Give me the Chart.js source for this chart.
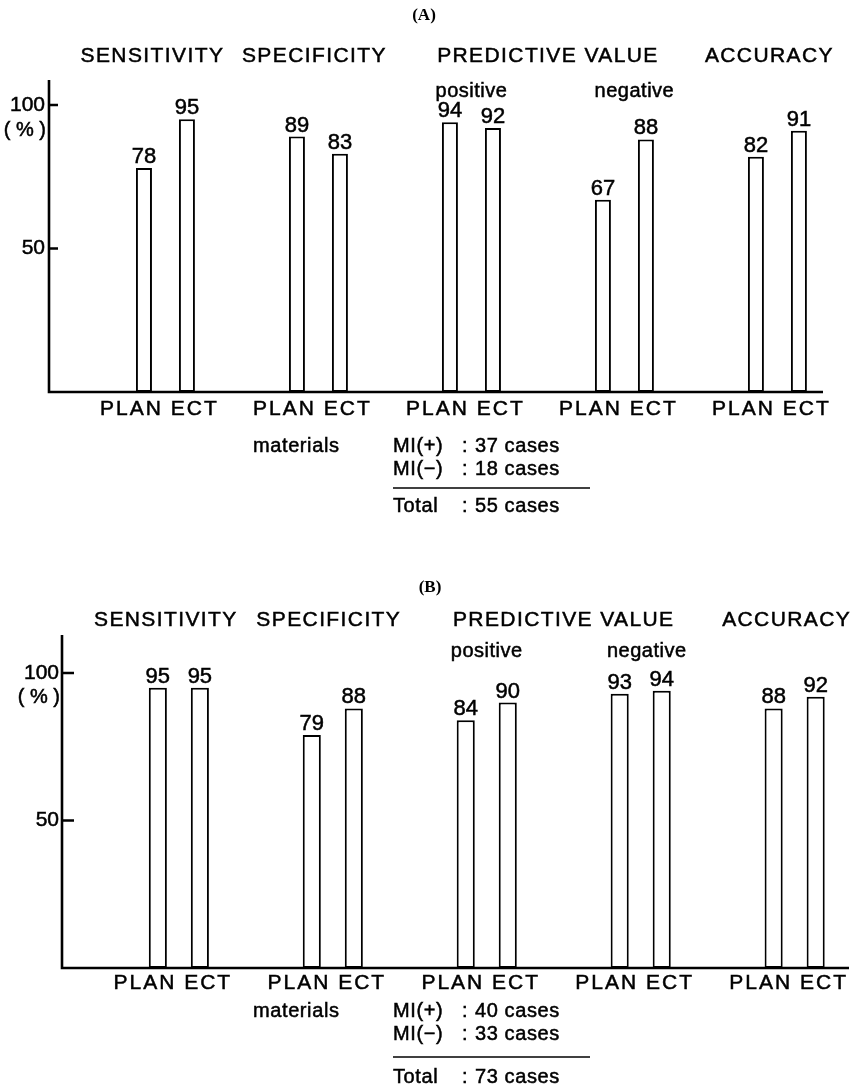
<!DOCTYPE html>
<html>
<head>
<meta charset="utf-8">
<script src="https://cdn.jsdelivr.net/npm/chart.js@4.4.0/dist/chart.umd.min.js"></script>
<style>
    body { margin: 0; background: #fff; }
    #wrap { position: relative; width: 851px; height: 1089px; }
    canvas { position: absolute; left: 0; }
</style>
</head>
<body>
<div id="wrap">
    <canvas id="chartA" width="851" height="560" style="top:0px"></canvas>
    <canvas id="chartB" width="851" height="529" style="top:560px"></canvas>
</div>
<script>
// Data
const categories = ['SENSITIVITY', 'SPECIFICITY', 'positive', 'negative', 'ACCURACY'];
const pairedHeader = 'PREDICTIVE VALUE';
const seriesNames = ['PLAN', 'ECT'];
const planA = [78, 89, 94, 67, 82];
const ectA = [95, 83, 92, 88, 91];
const planB = [95, 79, 84, 93, 88];
const ectB = [95, 88, 90, 94, 92];
const yTicks = [50, 100];
const materialsA = [['MI(+)', '37 cases'], ['MI(\u2212)', '18 cases'], ['Total', '55 cases']];
const materialsB = [['MI(+)', '40 cases'], ['MI(\u2212)', '33 cases'], ['Total', '73 cases']];

const SANS = "'Liberation Sans', Arial, Helvetica, sans-serif";
const headerShift = [-13, -4, 0, 0, -8];

// fill + thin stroke so the print looks a bit heavier
function ink(ctx, text, x, y) {
    ctx.fillText(text, x, y);
    ctx.strokeText(text, x, y);
}

// draws axes, inner ticks, value labels and all the figure text
const panelText = {
    id: 'panelText',
    afterDraw(chart, args, o) {
        const ctx = chart.ctx;
        const area = chart.chartArea;
        const xs = chart.scales.x, ys = chart.scales.y;
        ctx.save();
        ctx.fillStyle = '#000';
        ctx.strokeStyle = '#000';

        // axis lines
        ctx.lineWidth = 2.6;
        ctx.beginPath();
        ctx.moveTo(area.left, area.top);
        ctx.lineTo(area.left, area.bottom);
        ctx.lineTo(area.right, area.bottom);
        yTicks.forEach(v => {
            const py = ys.getPixelForValue(v);
            ctx.moveTo(area.left, py);
            ctx.lineTo(area.left + o.tickLen, py);
        });
        ctx.stroke();

        ctx.lineWidth = 0.5;

        // tick labels and (%) under the 100 tick
        ctx.font = '21px ' + SANS;
        ctx.textAlign = 'right';
        ctx.textBaseline = 'middle';
        yTicks.forEach(v => ink(ctx, String(v), area.left - o.tickPad, ys.getPixelForValue(v)));
        ctx.font = '20px ' + SANS;
        ink(ctx, '( % )', area.left - o.tickPad + 1, ys.getPixelForValue(100) + o.pctDy);

        // values above bars
        ctx.font = '22px ' + SANS;
        ctx.textAlign = 'center';
        ctx.textBaseline = 'alphabetic';
        chart.data.datasets.forEach((ds, di) => {
            chart.getDatasetMeta(di).data.forEach((bar, i) => {
                ink(ctx, String(ds.data[i].y), bar.x, bar.y - 5);
            });
        });

        // PLAN ECT under each pair
        const planMeta = chart.getDatasetMeta(0).data;
        const ectMeta = chart.getDatasetMeta(1).data;
        ctx.textBaseline = 'middle';
        ctx.font = '21px ' + SANS;
        ctx.letterSpacing = '2px';
        planMeta.forEach((bar, i) => {
            const cx = (bar.x + ectMeta[i].x) / 2 - 6;
            ink(ctx, seriesNames[0] + ' ' + seriesNames[1], cx, o.labelY);
        });

        // headers
        ctx.letterSpacing = '1.4px';
        categories.forEach((c, i) => {
            if (i === 2 || i === 3) return;
            ink(ctx, c, xs.getPixelForValue(i) + headerShift[i], o.headerY);
        });
        ink(ctx, pairedHeader, (xs.getPixelForValue(2) + xs.getPixelForValue(3)) / 2, o.headerY);
        ctx.letterSpacing = '0.5px';
        ctx.font = '20px ' + SANS;
        ink(ctx, categories[2], xs.getPixelForValue(2), o.subY);
        ink(ctx, categories[3], xs.getPixelForValue(3) + o.negShift, o.subY);

        // panel tag
        ctx.letterSpacing = '0px';
        ctx.font = "bold 17px 'Liberation Serif', 'Times New Roman', serif";
        ctx.fillText(o.tag, o.tagX, o.tagY);

        // materials
        ctx.font = '20px ' + SANS;
        ctx.textAlign = 'left';
        ctx.letterSpacing = '0.6px';
        ink(ctx, 'materials', 253, o.rowsY[0]);
        o.rows.forEach((r, i) => {
            ink(ctx, r[0], 393, o.rowsY[i]);
            ink(ctx, ':', 462, o.rowsY[i]);
            ink(ctx, r[1], 475, o.rowsY[i]);
        });
        ctx.lineWidth = 1.6;
        ctx.beginPath();
        ctx.moveTo(393, o.lineY);
        ctx.lineTo(590, o.lineY);
        ctx.stroke();
        ctx.restore();
    }
};

function makeChart(id, plan, ect, cfg) {
    const barStyle = { backgroundColor: '#fff', borderColor: '#000', borderWidth: 2, borderSkipped: false };
    return new Chart(document.getElementById(id), {
        type: 'bar',
        data: {
            datasets: [
                { label: seriesNames[0], data: plan.map((v, i) => ({ x: i, y: v })), ...barStyle },
                { label: seriesNames[1], data: ect.map((v, i) => ({ x: i, y: v })), ...barStyle }
            ]
        },
        options: {
            responsive: false,
            animation: false,
            events: [],
            layout: { padding: { top: cfg.top, bottom: cfg.bottom, left: 0, right: cfg.right } },
            datasets: { bar: { categoryPercentage: cfg.catPct, barPercentage: cfg.barPct } },
            scales: {
                x: {
                    type: 'linear', min: cfg.xMin, max: cfg.xMax, offset: false, display: false,
                    afterBuildTicks: s => { s.ticks = categories.map((c, i) => ({ value: i })); }
                },
                y: {
                    min: 0, max: cfg.yMax,
                    border: { display: false },
                    grid: { display: false, drawTicks: false },
                    // labels are drawn by the plugin (heavier ink)
                    ticks: { display: false },
                    afterBuildTicks: s => { s.ticks = yTicks.map(v => ({ value: v })); },
                    afterFit: s => { s.width = cfg.axisX; }
                }
            },
            plugins: { legend: { display: false }, tooltip: { enabled: false }, panelText: cfg }
        },
        plugins: [panelText]
    });
}

makeChart('chartA', planA, ectA, {
    top: 80, bottom: 168, right: 28, axisX: 49, yMax: 108.7,
    xMin: -0.761, xMax: 4.298, catPct: 0.562, barPct: 0.372,
    tickPad: 4, tickLen: 9, pctDy: 26,
    tag: '(A)', tagX: 424, tagY: 16, headerY: 56, subY: 91, negShift: 10,
    labelY: 409, rows: materialsA, rowsY: [446, 469, 506], lineY: 488
});

makeChart('chartB', planB, ectB, {
    top: 75, bottom: 121, right: 2, axisX: 62, yMax: 112.9,
    xMin: -0.759, xMax: 4.353, catPct: 0.546, barPct: 0.43,
    tickPad: 3, tickLen: 12, pctDy: 24,
    tag: '(B)', tagX: 430, tagY: 28, headerY: 60, subY: 91, negShift: 6,
    labelY: 423, rows: materialsB, rowsY: [451, 474, 517], lineY: 497
});
</script>
</body>
</html>
